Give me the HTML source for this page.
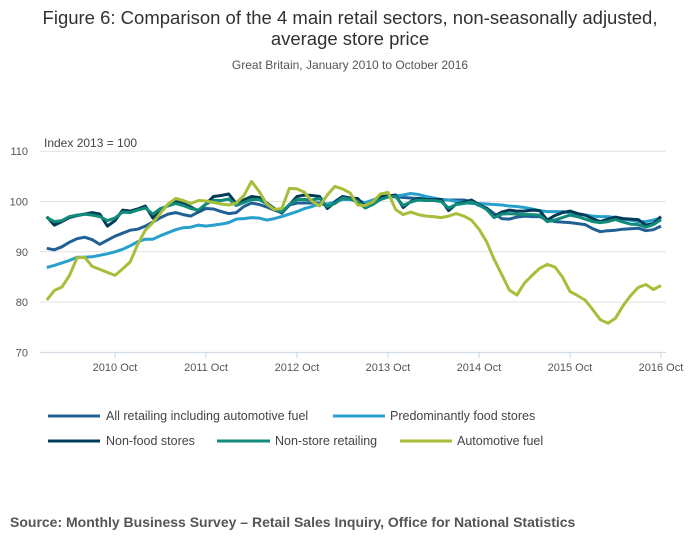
<!DOCTYPE html>
<html><head><meta charset="utf-8"><style>
body{margin:0;background:#fff;font-family:"Liberation Sans",sans-serif;}
svg text{font-family:"Liberation Sans",sans-serif;}
</style></head><body>
<svg width="700" height="549" viewBox="0 0 700 549" xmlns="http://www.w3.org/2000/svg">
<text x="350" y="24" text-anchor="middle" font-size="18.5" fill="#323132">Figure 6: Comparison of the 4 main retail sectors, non-seasonally adjusted,</text>
<text x="350" y="45" text-anchor="middle" font-size="18.5" fill="#323132">average store price</text>
<text x="350" y="69" text-anchor="middle" font-size="12" fill="#555">Great Britain, January 2010 to October 2016</text>
<text x="44" y="147" font-size="12" fill="#444">Index 2013 = 100</text>
<g id="grid"></g><g id="xaxis"></g><g id="series"></g>
<g font-size="12.5" fill="#444">
<line x1="48" y1="416" x2="100" y2="416" stroke="#206095" stroke-width="3"/>
<text x="106" y="420">All retailing including automotive fuel</text>
<line x1="333" y1="416" x2="385" y2="416" stroke="#27a0cc" stroke-width="3"/>
<text x="390" y="420">Predominantly food stores</text>
<line x1="48" y1="441" x2="100" y2="441" stroke="#003c57" stroke-width="3"/>
<text x="106" y="445">Non-food stores</text>
<line x1="217" y1="441" x2="270" y2="441" stroke="#118c7b" stroke-width="3"/>
<text x="275" y="445">Non-store retailing</text>
<line x1="400" y1="441" x2="452" y2="441" stroke="#a8bd3a" stroke-width="3"/>
<text x="457" y="445">Automotive fuel</text>
</g>
<text x="10" y="527" font-size="14" font-weight="bold" fill="#555">Source: Monthly Business Survey – Retail Sales Inquiry, Office for National Statistics</text>
</svg>
<script>
const yTicks=[70,80,90,100,110];
const xTickLabels=["2010 Oct","2011 Oct","2012 Oct","2013 Oct","2014 Oct","2015 Oct","2016 Oct"];
const xTickIdx=[9,21,33,45,57,69,81];
const allRetail=[90.7,90.4,91,91.9,92.6,92.9,92.4,91.5,92.3,93.1,93.7,94.3,94.5,95.1,95.9,96.8,97.5,97.8,97.4,97.1,97.9,98.6,98.5,98,97.6,97.8,99,99.7,99.4,98.9,98.3,97.8,99.3,99.7,99.7,99.7,99.7,99.1,100,101,100.5,100.2,99.7,100,100.4,100.9,101,100.8,100.7,100.6,100.5,100.4,100.4,100.3,100.3,100.3,100,99.2,98.7,97.6,96.6,96.5,96.9,97.1,97,97,96.4,96,95.9,95.8,95.6,95.4,94.6,94,94.2,94.3,94.5,94.6,94.7,94.2,94.4,95.1];
const foodStores=[86.9,87.3,87.8,88.3,88.9,88.9,89,89.3,89.6,90,90.5,91.2,92,92.5,92.5,93.2,93.8,94.4,94.8,94.9,95.3,95.1,95.3,95.5,95.8,96.5,96.6,96.8,96.7,96.3,96.6,97,97.5,98,98.6,99,99.5,99.5,99.9,100.4,100.4,99.9,99.8,100.3,100.9,101,101.1,101.3,101.6,101.4,101,100.7,100.4,100.3,100,99.8,99.6,99.6,99.5,99.4,99.3,99.1,99,98.8,98.5,98.2,98,98,98,97.8,97.5,97.3,97.1,97,97,96.8,96.5,96.3,96,96,96.3,96.7];
const nonFood=[97,95.3,96,96.8,97.2,97.5,97.8,97.5,95.1,96.2,98.3,98.1,98.5,99.1,96.7,98.4,99.2,100,99.6,98.9,98.1,99.5,101,101.2,101.5,99.6,100.3,101,100.8,99.7,98.6,97.7,99.3,101,101.3,101.2,101,98.6,99.8,101,100.7,100.6,99,99.9,101,101.1,101.3,98.8,100,100.6,100.4,100.4,100.4,98.2,99.5,99.8,100.3,99.4,98.6,97,97.9,98.3,98.1,98.1,98.3,98.2,96.3,97.2,97.8,98.1,97.6,97.3,96.6,96,96.5,96.9,96.6,96.5,96.4,95.3,95.6,97];
const nonStore=[96.8,96,96.2,97,97.3,97.5,97.3,97,96.2,96.7,97.9,97.8,98.3,98.7,97.5,98.6,99.1,99.6,99.2,98.6,98.3,99.5,100.2,100.2,100.5,99.2,99.8,100.4,100.4,99.5,98.5,97.9,99.4,100.4,100.4,100.3,100.6,99,99.6,100.7,100.5,100,98.7,99.4,100.4,100.9,101,99.2,99.9,100.3,100.2,100.2,100,98.7,99.4,99.6,99.9,99.3,98.4,96.8,97.5,97.6,97.5,97.4,97.4,97.3,96,96.3,96.8,97.3,97,96.5,96,95.8,96,96.4,95.9,95.5,95.4,94.9,95.4,96.4];
const fuel=[80.4,82.3,83,85.3,88.8,88.9,87.1,86.5,85.9,85.3,86.6,88,91.5,94.3,95.8,97.7,99.5,100.6,100.2,99.6,100.2,100.1,99.8,99.5,99.3,99.7,101.2,104,102,99.5,98.4,98.6,102.6,102.5,101.8,100,99.1,101.3,103,102.5,101.7,99.3,99.2,99.9,101.5,101.8,98.4,97.4,97.9,97.4,97.1,97,96.8,97.1,97.6,97.1,96.3,94.5,92,88.5,85.5,82.4,81.4,83.8,85.3,86.7,87.5,87,85,82.1,81.3,80.4,78.5,76.5,75.8,76.8,79.3,81.3,82.9,83.5,82.5,83.3];
const NS="http://www.w3.org/2000/svg";
function xS(i){return 46.75+i*7.583;}
function yS(v){return 201.5-(v-100)*5.03;}
function mk(tag,attrs,parent){const e=document.createElementNS(NS,tag);for(const k in attrs)e.setAttribute(k,attrs[k]);parent.appendChild(e);return e;}
const grid=document.getElementById('grid');
yTicks.forEach(v=>{
  const l=mk('line',{x1:40,x2:666,y1:yS(v),y2:yS(v),stroke:v===70?'#c9d6e3':'#e2e2e2','stroke-width':1},grid);
  
  
  const t=mk('text',{x:28,y:yS(v)+4,'text-anchor':'end','font-size':11,fill:'#555'},grid);
  t.textContent=v;
  
  
});
const xa=document.getElementById('xaxis');
xTickLabels.forEach((lab,k)=>{
  const x=xS(xTickIdx[k]);
  const tk=mk('line',{x1:x,x2:x,y1:352,y2:358,stroke:'#c9d6e3'},xa);
  
  
  const t=mk('text',{x:x,y:371,'text-anchor':'middle','font-size':11,fill:'#555'},xa);
  t.textContent=lab;
  
  
});
const sg=document.getElementById('series');
[[allRetail,'#206095','line-all-retailing'],[foodStores,'#27a0cc','line-food-stores'],[nonFood,'#003c57','line-non-food'],[nonStore,'#118c7b','line-non-store'],[fuel,'#a8bd3a','line-automotive-fuel']].forEach(s=>{
  const pts=s[0].map((v,i)=>xS(i).toFixed(1)+','+yS(v).toFixed(1)).join(' ');
  const p=mk('polyline',{points:pts,fill:'none',stroke:s[1],'stroke-width':3,'stroke-linejoin':'round'},sg);
  
  
});
</script>
</body></html>
